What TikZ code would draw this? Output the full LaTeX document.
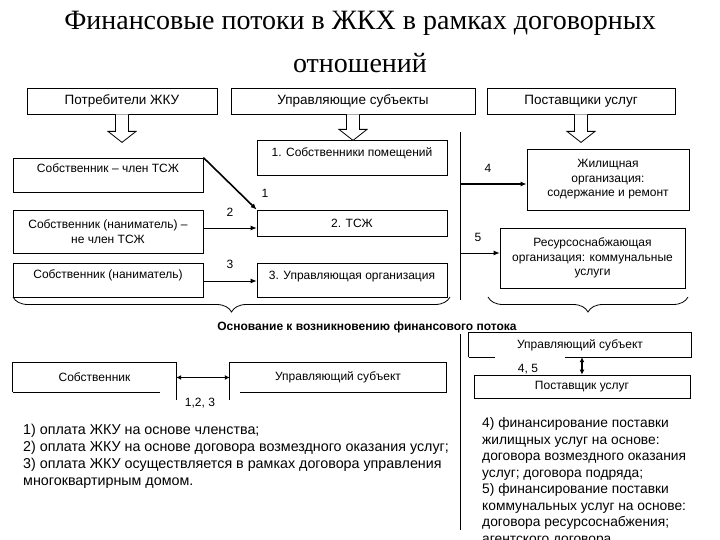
\documentclass[tikz,border=0pt]{standalone}
\usepackage{fontspec}
\setmainfont{Liberation Sans}
\newfontfamily\titlefont{Liberation Serif}
\usetikzlibrary{arrows.meta,decorations.pathreplacing,calc}
\begin{document}
\begin{tikzpicture}[x=1pt,y=-1pt,
  box/.style={draw, line width=0.8pt, inner sep=0pt, font=\fontsize{12}{14.5}\selectfont},
  topbox/.style={box, font=\fontsize{13.5}{16}\selectfont},
  nobox/.style={draw=none, inner sep=0pt, font=\fontsize{12}{14.5}\selectfont},
  tb/.style 2 args={inner ysep=0pt, text height=#1pt, text depth=#2pt},
  hol/.style={draw, line width=0.8pt, fill=white, line join=miter},
  arr/.style={line width=0.8pt, -{Latex[length=6pt,width=5pt]}},
  tarr/.style={line width=1.6pt, -{Latex[length=6pt,width=5pt]}},
  darr/.style={line width=1.6pt, {Latex[length=5pt,width=5pt]}-{Latex[length=5pt,width=5pt]}},
  lab/.style={font=\fontsize{12}{14}\selectfont, inner sep=0pt},
  lst/.style={font=\fontsize{13.8}{17}\selectfont, inner sep=0pt, anchor=base west},
  lstl/.style={lst, font=\fontsize{14.3}{17}\selectfont},
  ln/.style={line width=0.8pt},
  brc/.style={line width=0.8pt, decorate, decoration={brace, mirror, amplitude=15pt}}
]
\useasboundingbox (0,0) rectangle (720,540);
\clip (0,0) rectangle (720,540);

% title
\node[anchor=base, inner sep=0pt, font=\titlefont\fontsize{28}{34}\selectfont] (t1) at (360,30) {Финансовые потоки в ЖКХ в рамках договорных};
\node[anchor=base, inner sep=0pt, font=\titlefont\fontsize{28}{34}\selectfont] (t2) at (360,73) {отношений};

% top boxes
\node[topbox, minimum width=190, minimum height=26] (pA) at (122,101) {Потребители ЖКУ};
\node[topbox, minimum width=244, minimum height=26] (pB) at (353,101) {Управляющие субъекты};
\node[topbox, minimum width=188, minimum height=26] (pC) at (581,101) {Поставщики услуг};

% hollow arrows
\draw[hol] ($(pA.south)+(-6.5,0)$) -- ++(0,17) -- ++(-7.5,0) -- ++(14,11) -- ++(14,-11) -- ++(-7.5,0) -- ++(0,-17);
\draw[hol] ($(pC.south)+(-6.5,0)$) -- ++(0,17) -- ++(-7.5,0) -- ++(14,11) -- ++(14,-11) -- ++(-7.5,0) -- ++(0,-17);

% left column
\node[box, minimum width=190, minimum height=34, tb={15}{19}] (L1) at (108,175) {Собственник – член ТСЖ};
\node[box, align=center, minimum width=190, minimum height=43] (L2) at (108,231.5) {Собственник (наниматель) –\\не член ТСЖ};
\node[box, minimum width=190, minimum height=34, tb={15}{19}] (L3) at (108,280) {Собственник (наниматель)};

% middle column
\node[box, minimum width=190, minimum height=35, tb={17}{18}] (M1) at (352,157.5) {1. Собственники помещений};
\node[box, minimum width=190, minimum height=26] (M2) at (352,223) {2. ТСЖ};
\node[box, minimum width=190, minimum height=34, tb={16}{18}] (M3) at (352,280) {3. Управляющая организация};

\draw[hol] ($(pB.south)+(-6.5,0)$) -- ++(0,15) -- ++(-7.5,0) -- ++(14,11) -- ++(14,-11) -- ++(-7.5,0) -- ++(0,-15);

% right column
\node[box, align=center, minimum width=162, minimum height=61] (R1) at (608,179.5) {Жилищная\\организация:\\содержание и ремонт};
\node[box, align=center, minimum width=185, minimum height=60] (R2) at (592.5,258) {Ресурсоснабжающая\\организация: коммунальные\\услуги};

% vertical divider (upper)
\coordinate (v1t) at (460,132);
\coordinate (v1b) at (460,300);
\draw[ln] (v1t) -- (v1b);
\coordinate (a4) at (460,184);
\coordinate (a5) at (460,253);
\draw[tarr] (a4) -- (a4 -| R1.west);
\draw[arr] (a5) -- (a5 -| R2.west);
\node[lab] (n4) at (488,168) {4};
\node[lab] (n5) at (478,237) {5};

% arrows to middle
\draw[tarr] (L1.north east) -- (M2.north west);
\draw[arr] ([yshift=3.5pt]L2.east) -- ([yshift=3.5pt]L2.east -| M2.west);
\draw[arr] ([yshift=-1pt]L3.east) -- ([yshift=-1pt]L3.east -| M3.west);
\node[lab] (n1) at (265,193) {1};
\node[lab] (n2) at (230,212) {2};
\node[lab] (n3) at (230,264) {3};

% braces
\coordinate (b1l) at (13,297);
\coordinate (b1r) at (450,297);
\coordinate (b2l) at (488,297);
\coordinate (b2r) at (688,297);
\draw[brc] (b1l) -- (b1r);
\draw[brc] (b2l) -- (b2r);
\node[inner sep=0pt, font=\bfseries\fontsize{12}{14}\selectfont] (osn) at (367,327) {Основание к возникновению финансового потока};

% lower divider
\coordinate (v2t) at (460,334);
\coordinate (v2b) at (460,530);
\draw[ln] (v2t) -- (v2b);

% lower left boxes
\node[nobox, minimum width=163, minimum height=29] (S) at (94.5,377.5) {Собственник};
\node[nobox, minimum width=216, minimum height=29] (U1) at (338,377.5) {Управляющий субъект};
\draw[ln] (S.south west) -- (S.north west) -- (S.north east) -- ([yshift=-8pt]S.south east);
\draw[ln] (S.south west) -- ([xshift=-16pt]S.south east);
\draw[ln] ([yshift=-8pt]U1.south west) -- (U1.north west) -- (U1.north east) -- (U1.south east) -- ([xshift=10pt]U1.south west);
\draw[darr] (S.east) -- (U1.west);
\node[lab] (n123) at (200,403) {1,2, 3};

% lower right boxes
\node[nobox, minimum width=222, minimum height=24] (U2) at (580,345) {Управляющий субъект};
\draw[ln] (U2.south west) -- (U2.north west) -- (U2.north east) -- (U2.south east) -- ([xshift=-126pt]U2.south east);
\draw[ln] (U2.south west) -- ([xshift=26pt]U2.south west);
\node[box, minimum width=216, minimum height=23] (P2) at (582,386.5) {Поставщик услуг};
\draw[darr] (P2.north |- U2.south) -- (P2.north);
\node[lab] (n45) at (528,369) {4, 5};

% lists
\node[lstl] (l1) at (23,434.5) {1) оплата ЖКУ на основе членства;};
\node[lstl] (l2) at (23,451.5) {2) оплата ЖКУ на основе договора возмездного оказания услуг;};
\node[lstl] (l3) at (23,468.5) {3) оплата ЖКУ осуществляется в рамках договора управления};
\node[lstl] (l4) at (23,485.5) {многоквартирным домом.};

\node[lst] (r1) at (482,427.5) {4) финансирование поставки};
\node[lst] (r2) at (482,444) {жилищных услуг на основе:};
\node[lst] (r3) at (482,460.5) {договора возмездного оказания};
\node[lst] (r4) at (482,477) {услуг; договора подряда;};
\node[lst] (r5) at (482,493.5) {5) финансирование поставки};
\node[lst] (r6) at (482,510) {коммунальных услуг на основе:};
\node[lst] (r7) at (482,526.5) {договора ресурсоснабжения;};
\node[lst] (r8) at (482,543) {агентского договора.};
\end{tikzpicture}
\end{document}
